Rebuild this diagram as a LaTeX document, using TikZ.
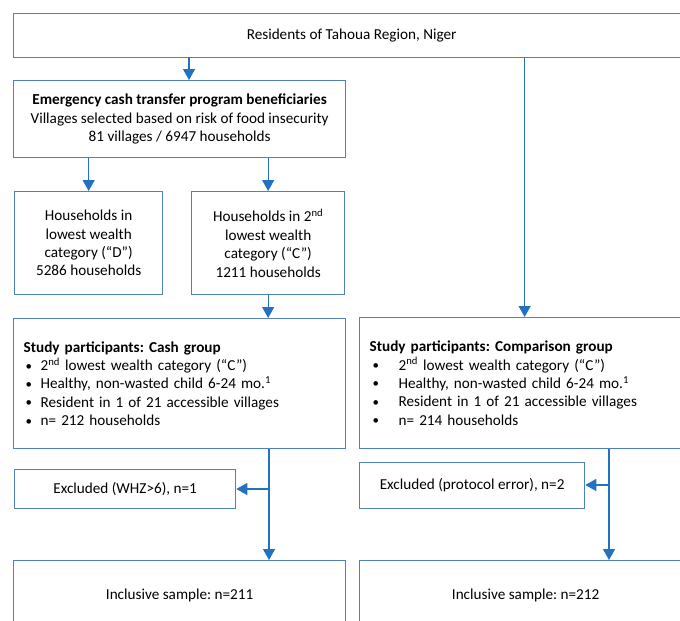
\documentclass[tikz,border=0pt]{standalone}
\usepackage{fontspec}
\setmainfont{Carlito}
\usetikzlibrary{arrows.meta}
\definecolor{boxblue}{RGB}{79,129,189}
\definecolor{linkblue}{RGB}{35,114,193}
\tikzset{
  box/.style={draw=boxblue, line width=1.3pt, anchor=north west, inner sep=0pt,
    font=\fontsize{15.2}{18.4}\selectfont\frenchspacing, align=center, text=black},
  lbox/.style={box, align=left, inner xsep=10pt},
  link/.style={draw=linkblue, line width=1.3pt},
  arr/.style={link, -{Triangle[width=12pt,length=11pt]}},
}
\newcommand{\cbul}{\hspace*{2pt}\makebox[15pt][l]{\raisebox{0.5pt}{\scalebox{0.85}{•}}}}
\newcommand{\pbul}{\hspace*{3pt}\makebox[26pt][l]{\raisebox{0.5pt}{\scalebox{0.85}{•}}}}
\begin{document}
\begin{tikzpicture}[x=1pt,y=-1pt]
\useasboundingbox (0,0) rectangle (680,621);
\clip (0,0) rectangle (680,621);
\fill[white] (0,0) rectangle (680,621);

\node[box, minimum width=676pt, minimum height=44pt] (top) at (13,13) {Residents of Tahoua Region, Niger};
\node[box, minimum width=332pt, minimum height=77pt] (emerg) at (13,80)
  {\textbf{Emergency cash transfer program beneficiaries}\\Villages selected based on risk of food insecurity\\81 villages / 6947 households};
\node[box, minimum width=148pt, minimum height=103pt] (dgrp) at (14,191)
  {Households in\\lowest wealth\\category (“D”)\\5286 households};
\node[box, minimum width=153pt, minimum height=103pt] (cgrp) at (191,191)
  {Households in 2\textsuperscript{nd}\\lowest wealth\\category (“C”)\\1211 households};
\node[lbox, text width=312pt, minimum height=130pt] (cash) at (13,318)
  {\textbf{Study participants: Cash group}\\
   \cbul 2\textsuperscript{nd} lowest wealth category (“C”)\\
   \cbul Healthy, non-wasted child 6-24 mo.\textsuperscript{1}\\
   \cbul Resident in 1 of 21 accessible villages\\
   \cbul n= 212 households};
\node[lbox, text width=310pt, minimum height=131pt] (cmp) at (359,317)
  {\textbf{Study participants: Comparison group}\\
   \pbul 2\textsuperscript{nd} lowest wealth category (“C”)\\
   \pbul Healthy, non-wasted child 6-24 mo.\textsuperscript{1}\\
   \pbul Resident in 1 of 21 accessible villages\\
   \pbul n= 214 households};
\node[box, minimum width=221pt, minimum height=39pt] (ex1) at (14,469) {Excluded (WHZ>6), n=1};
\node[box, minimum width=225pt, minimum height=46pt] (ex2) at (359,462) {Excluded (protocol error), n=2};
\node[box, minimum width=332pt, minimum height=70pt] (inc1) at (13,560) {Inclusive sample: n=211};
\node[box, minimum width=332pt, minimum height=70pt] (inc2) at (359,560) {Inclusive sample: n=212};

\coordinate (ta) at (189,57);
\coordinate (j1) at (269,489);
\coordinate (j2) at (609,485);

\draw[arr] (ta) -- (ta |- emerg.north);
\draw[arr] (top.south -| cmp.north) -- (cmp.north);
\draw[arr] (emerg.south -| dgrp.north) -- (dgrp.north);
\draw[arr] (emerg.south -| cgrp.north) -- (cgrp.north);
\draw[arr] (cgrp.south) -- (cgrp.south |- cash.north);
\draw[arr] (cash.south -| j1) -- (inc1.north -| j1);
\draw[arr] (j1) -- (ex1.east |- j1);
\draw[arr] (cmp.south -| j2) -- (inc2.north -| j2);
\draw[arr] (j2) -- (ex2.east |- j2);
\end{tikzpicture}
\end{document}
